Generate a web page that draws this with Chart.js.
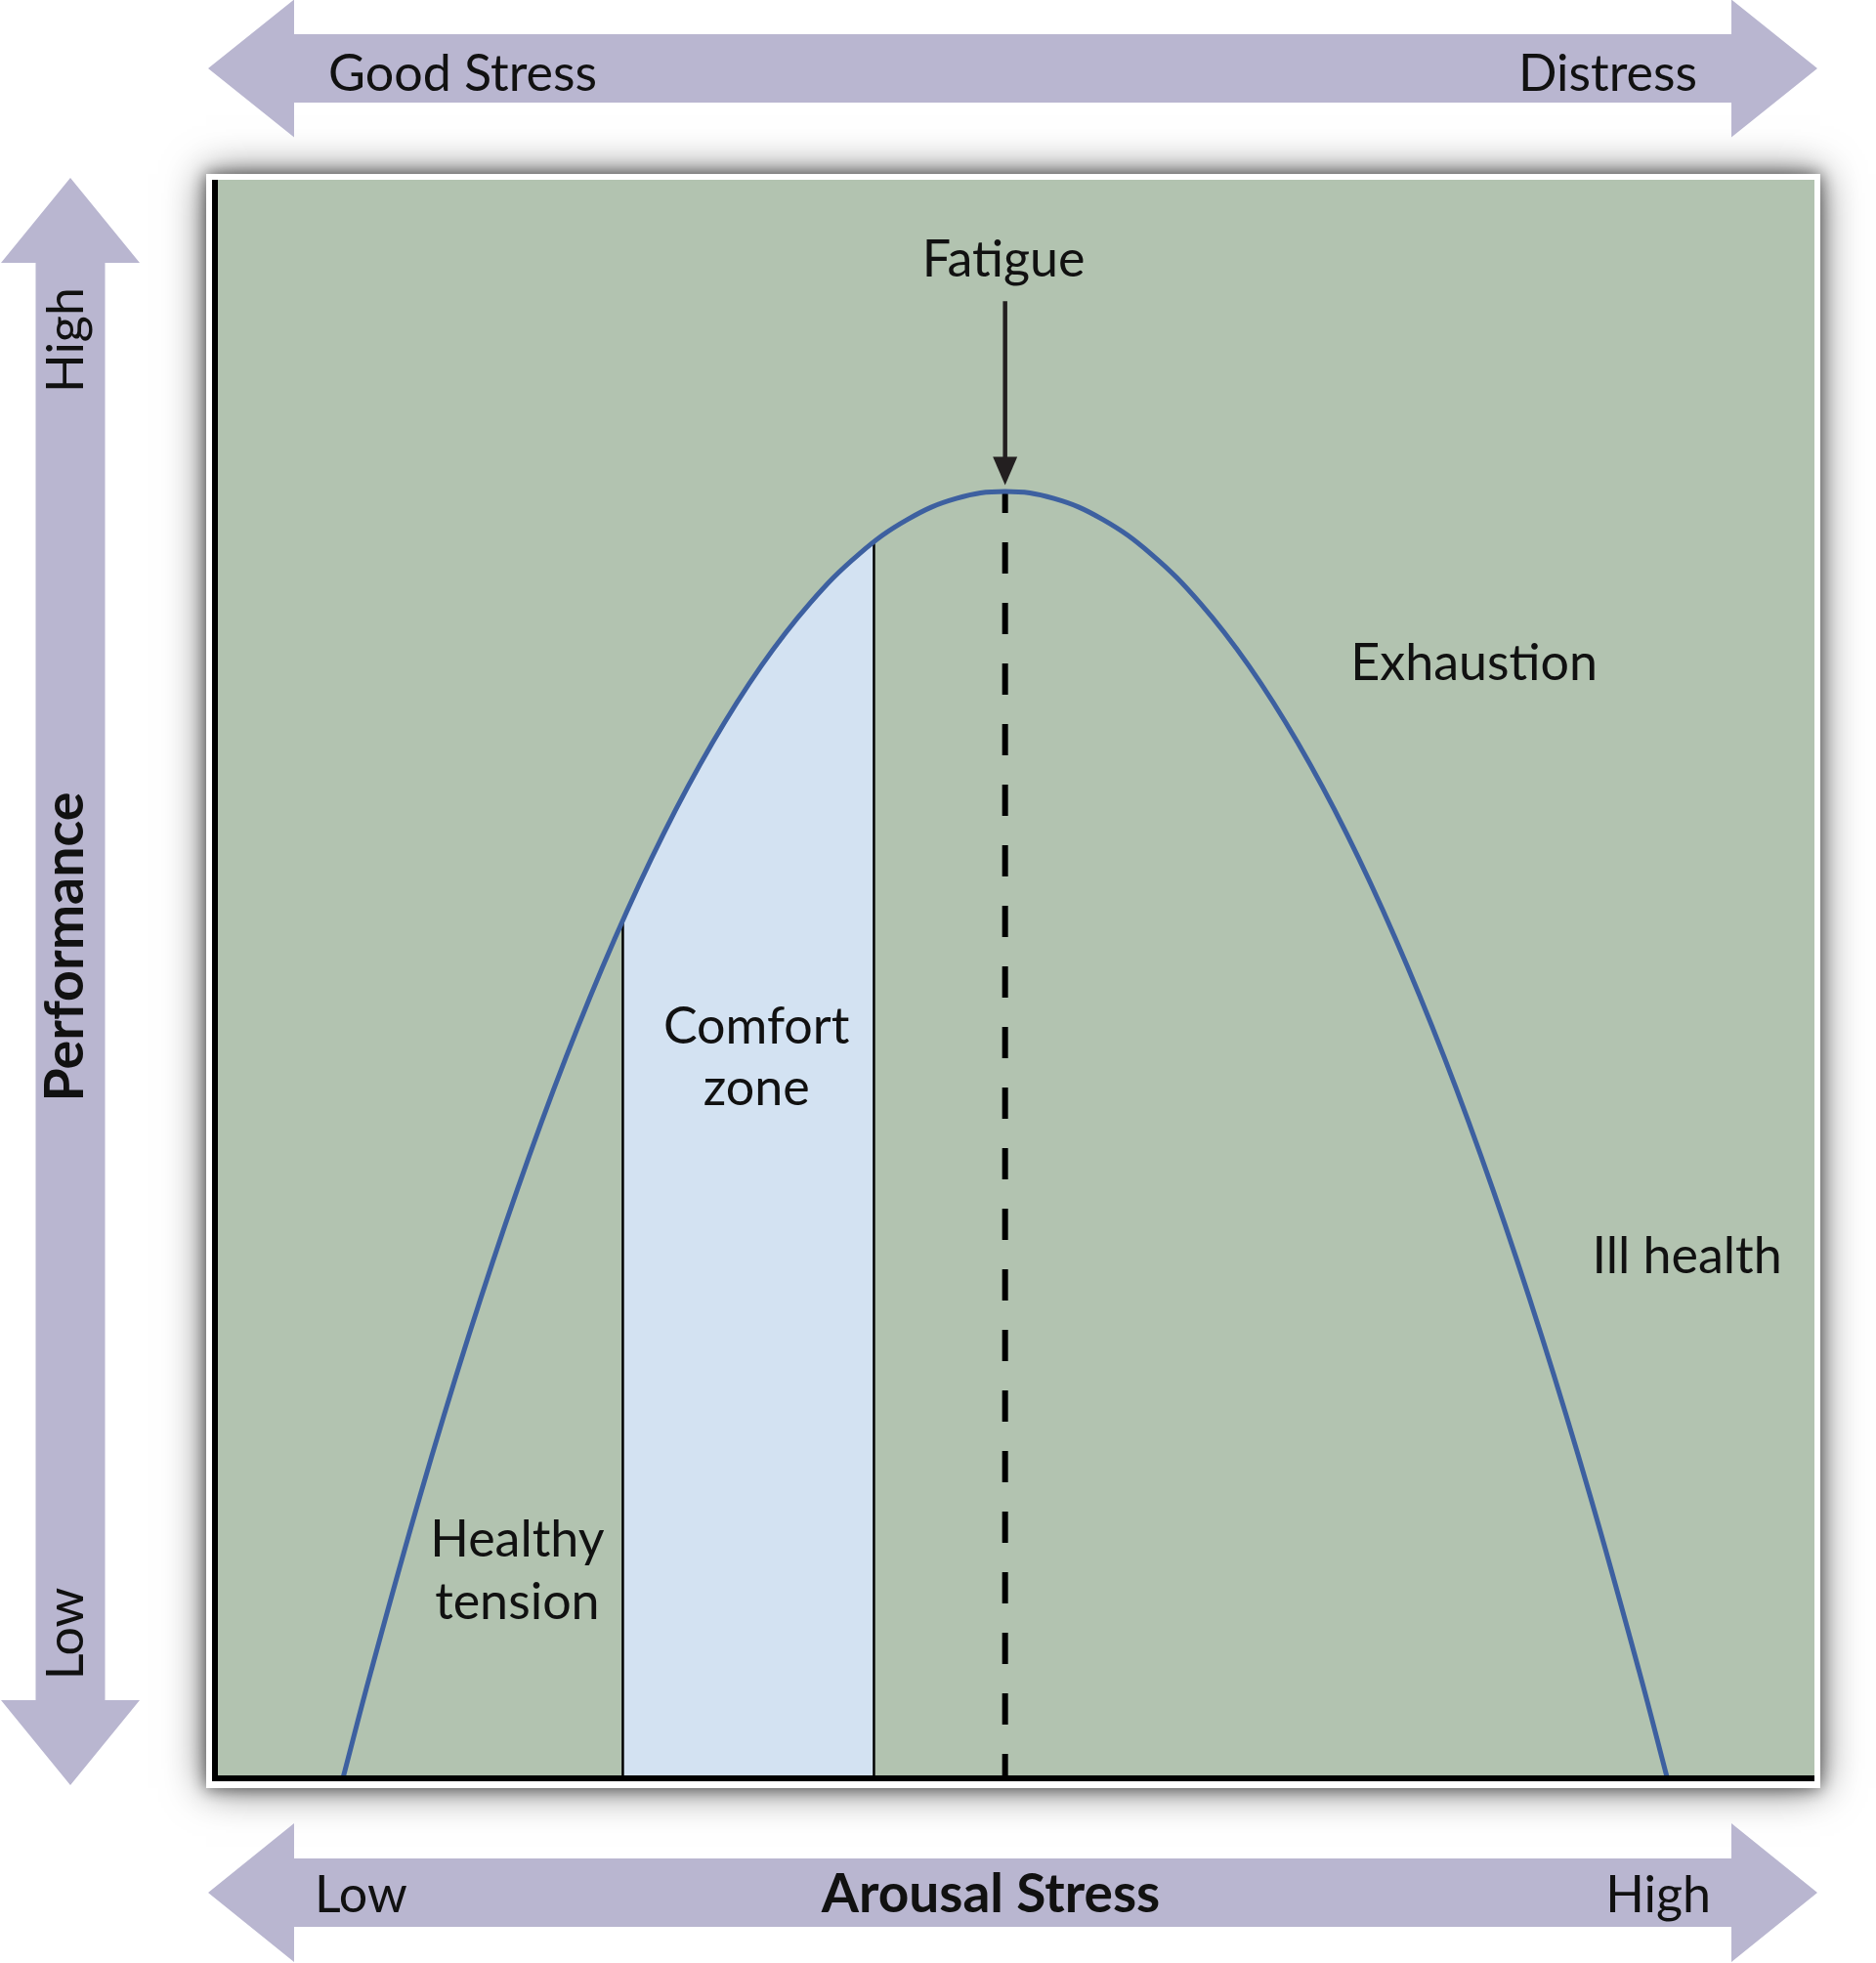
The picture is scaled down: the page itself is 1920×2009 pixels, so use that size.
<!DOCTYPE html>
<html>
<head>
<meta charset="utf-8">
<script src="https://cdn.jsdelivr.net/npm/chart.js@4.4.1/dist/chart.umd.min.js"></script>
<style>
  html, body { margin: 0; padding: 0; background: #fff; }
</style>
</head>
<body>
<canvas id="stressChart" width="1920" height="2009"></canvas>
<script>
// performance curve (x = arousal 0..100, y = performance 0..100)
const curveX = [8.0, 9.75, 12.8, 15.85, 18.9, 21.95, 25.0, 28.05, 31.1, 34.15, 37.2, 40.25, 43.3, 46.35, 49.4,
                52.45, 55.5, 58.55, 61.6, 64.65, 67.7, 70.75, 73.8, 76.85, 79.9, 82.95, 86.0, 89.05, 90.8];
const curveY = [0, 6.67, 17.59, 27.64, 36.82, 45.12, 52.54, 59.10, 64.77, 69.58, 73.51, 76.57, 78.75, 80.06, 80.5,
                80.06, 78.75, 76.57, 73.51, 69.58, 64.77, 59.10, 52.54, 45.12, 36.82, 27.64, 17.59, 6.67, 0];

// comfort zone (under the curve between the two dividers)
const zoneX = [25.5, 28.05, 31.1, 34.15, 37.2, 40.25, 41.2];
const zoneY = [53.68, 59.10, 64.77, 69.58, 73.51, 76.57, 77.34];

// divider lines: healthy tension | comfort zone | rest
const dividerX = [25.5, 41.2];
const dividerTop = [53.68, 77.34];

// fatigue peak (dashed line) and the arrow above it
const peakX = 49.4;
const peakY = 80.5;
const fatigueArrow = { from: 92.4, to: 80.9 };

const plotLabels = [
  { text: 'Fatigue', x: 49.3, y: 93.95, align: 'center' },
  { text: 'Exhaustion', x: 71.0, y: 68.7, align: 'left' },
  { text: 'Ill health', x: 86.1, y: 31.6, align: 'left' },
  { text: 'Comfort', x: 33.85, y: 45.97, align: 'center' },
  { text: 'zone', x: 33.85, y: 42.1, align: 'center' },
  { text: 'Healthy', x: 18.9, y: 13.9, align: 'center' },
  { text: 'tension', x: 18.9, y: 9.96, align: 'center' }
];

const GREEN = '#b2c3b0';
const ZONE_BLUE = '#d3e2f2';
const CURVE_BLUE = '#3d60a0';
const PURPLE = '#b9b6d0';
const INK = '#111111';
const FONT = '"Lato", "DejaVu Sans", sans-serif';

const toPoints = (xs, ys) => xs.map((x, i) => ({ x: x, y: ys[i] }));

// double headed arrow, horizontal or vertical
function bigArrow(ctx, a, b, mid, shaft, head, headLen, vertical) {
  const pts = [
    [a, mid], [a + headLen, mid - head], [a + headLen, mid - shaft],
    [b - headLen, mid - shaft], [b - headLen, mid - head], [b, mid],
    [b - headLen, mid + head], [b - headLen, mid + shaft],
    [a + headLen, mid + shaft], [a + headLen, mid + head]
  ];
  ctx.beginPath();
  pts.forEach((p, i) => {
    const px = vertical ? p[1] : p[0];
    const py = vertical ? p[0] : p[1];
    if (i === 0) ctx.moveTo(px, py); else ctx.lineTo(px, py);
  });
  ctx.closePath();
  ctx.fillStyle = PURPLE;
  ctx.fill();
}

const framePlugin = {
  id: 'frame',
  beforeDraw(chart) {
    const { ctx, chartArea: ca } = chart;
    ctx.save();
    ctx.fillStyle = '#fff';
    // soft outer glow, then a tighter darker one
    ctx.shadowColor = 'rgba(0,0,0,0.6)';
    ctx.shadowBlur = 40;
    ctx.fillRect(ca.left - 9, ca.top - 6, ca.right - ca.left + 15, ca.bottom - ca.top + 16);
    ctx.shadowColor = 'rgba(0,0,0,0.55)';
    ctx.shadowBlur = 16;
    ctx.fillRect(ca.left - 9, ca.top - 6, ca.right - ca.left + 15, ca.bottom - ca.top + 16);
    ctx.restore();
    ctx.fillStyle = GREEN;
    ctx.fillRect(ca.left, ca.top, ca.right - ca.left, ca.bottom - ca.top);
  },
  afterDraw(chart) {
    const { ctx, chartArea: ca, scales: { x, y } } = chart;
    ctx.save();

    // axis lines
    ctx.strokeStyle = '#000';
    ctx.lineWidth = 6;
    ctx.beginPath();
    ctx.moveTo(ca.left, ca.top);
    ctx.lineTo(ca.left, ca.bottom + 3);
    ctx.moveTo(ca.left - 3, ca.bottom);
    ctx.lineTo(ca.right, ca.bottom);
    ctx.stroke();

    // fatigue arrow
    const ax = x.getPixelForValue(peakX);
    const ay0 = y.getPixelForValue(fatigueArrow.from);
    const ay1 = y.getPixelForValue(fatigueArrow.to);
    ctx.strokeStyle = '#231f20';
    ctx.fillStyle = '#231f20';
    ctx.lineWidth = 4.5;
    ctx.beginPath();
    ctx.moveTo(ax, ay0);
    ctx.lineTo(ax, ay1 - 25);
    ctx.stroke();
    ctx.beginPath();
    ctx.moveTo(ax - 12.5, ay1 - 29);
    ctx.lineTo(ax + 12.5, ay1 - 29);
    ctx.lineTo(ax, ay1);
    ctx.closePath();
    ctx.fill();

    // labels inside the plot
    ctx.fillStyle = INK;
    ctx.font = '52px ' + FONT;
    ctx.textBaseline = 'alphabetic';
    plotLabels.forEach(l => {
      ctx.textAlign = l.align;
      ctx.fillText(l.text, x.getPixelForValue(l.x), y.getPixelForValue(l.y));
    });

    // big purple arrows around the plot
    const left = ca.left - 7, right = ca.right + 3;
    bigArrow(ctx, left, right, 70, 35, 70.5, 88, false);
    bigArrow(ctx, left, right, 1937, 35, 71, 88, false);
    bigArrow(ctx, ca.top - 2, ca.bottom + 7, 72, 35.5, 71, 87, true);

    ctx.fillStyle = INK;
    ctx.font = '52px ' + FONT;
    ctx.textAlign = 'left';
    ctx.fillText('Good Stress', 336, 93);
    ctx.fillText('Low', 322, 1957);
    ctx.textAlign = 'right';
    ctx.fillText('Distress', 1737, 93);
    ctx.fillText('High', 1751, 1957);
    ctx.textAlign = 'center';
    ctx.font = 'bold 55px ' + FONT;
    ctx.fillText('Arousal Stress', 1014, 1957);

    const vert = (text, cy, font) => {
      ctx.save();
      ctx.translate(85, cy);
      ctx.rotate(-Math.PI / 2);
      ctx.font = font;
      ctx.textAlign = 'center';
      ctx.fillText(text, 0, 0);
      ctx.restore();
    };
    vert('High', 348, '52px ' + FONT);
    vert('Performance', 969, 'bold 55.5px ' + FONT);
    vert('Low', 1672, '52px ' + FONT);

    ctx.restore();
  }
};

function draw() {
  const ctx = document.getElementById('stressChart').getContext('2d');
  new Chart(ctx, {
    type: 'scatter',
    data: {
      datasets: [
        {
          data: toPoints(curveX, curveY),
          showLine: true,
          borderColor: CURVE_BLUE,
          borderWidth: 5,
          pointRadius: 0,
          tension: 0.4,
          order: 0
        },
        {
          data: [{ x: peakX, y: peakY }, { x: peakX, y: 0 }],
          showLine: true,
          borderColor: '#000',
          borderWidth: 6,
          borderDash: [32, 30],
          borderDashOffset: 10,
          borderCapStyle: 'butt',
          pointRadius: 0,
          order: 1
        },
        ...dividerX.map((dx, i) => ({
          data: [{ x: dx, y: 0 }, { x: dx, y: dividerTop[i] }],
          showLine: true,
          borderColor: '#000',
          borderWidth: 2.5,
          pointRadius: 0,
          order: 2
        })),
        {
          data: toPoints(zoneX, zoneY),
          showLine: true,
          borderWidth: 0,
          borderColor: 'rgba(0,0,0,0)',
          backgroundColor: ZONE_BLUE,
          fill: 'origin',
          pointRadius: 0,
          tension: 0.4,
          order: 3
        }
      ]
    },
    options: {
      responsive: false,
      animation: false,
      devicePixelRatio: 1,
      events: [],
      layout: { padding: { left: 220, right: 63, top: 184, bottom: 189 } },
      scales: {
        x: { type: 'linear', min: 0, max: 100, display: false },
        y: { type: 'linear', min: 0, max: 100, display: false }
      },
      plugins: {
        legend: { display: false },
        tooltip: { enabled: false }
      }
    },
    plugins: [framePlugin]
  });
}

if (document.fonts && document.fonts.load) {
  Promise.all([document.fonts.load('52px Lato'), document.fonts.load('bold 52px Lato')])
    .then(draw, draw);
} else {
  draw();
}
</script>
</body>
</html>
